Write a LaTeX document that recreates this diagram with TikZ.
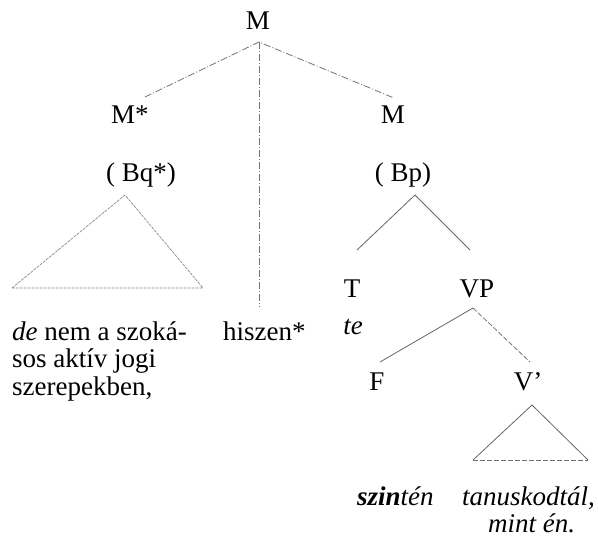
\documentclass[tikz,border=0pt]{standalone}
\usepackage{fontspec}
\setmainfont{Liberation Serif}
\begin{document}
\begin{tikzpicture}[x=1pt,y=-1pt,
  lbl/.style={inner sep=0pt,font=\fontsize{27}{29}\selectfont},
  txt/.style={inner sep=0pt,anchor=base west,font=\fontsize{27}{29}\selectfont},
  dashdot/.style={draw=black!55,line width=0.8pt,dash pattern=on 7pt off 2pt on 1pt off 2pt},
  fine/.style={draw=black!45,line width=0.7pt,dash pattern=on 3pt off 1pt},
  solidline/.style={draw=black!60,line width=0.8pt},
  dashline/.style={draw=black!55,line width=0.8pt,dash pattern=on 5pt off 2pt}]
\useasboundingbox (0,0) rectangle (598,539);
% labels
\node[lbl] (M) at (258,21) {M};
\node[lbl] (Mstar) at (130,115) {M*};
\node[lbl] (Mr) at (393,115) {M};
\node[lbl] (Bq) at (141,175) {( Bq*)};
\node[lbl] (Bp) at (403,175) {( Bp)};
\node[lbl,anchor=base] (T) at (352,297) {T};
\node[lbl,anchor=base] (te) at (353,334) {\itshape te};
\node[lbl,anchor=base] (VP) at (477,297) {VP};
\node[lbl,anchor=base] (F) at (377,390) {F};
\node[lbl,anchor=base] (Vb) at (528,390) {V’};
% texts
\node[txt] (de1) at (12,340) {\textit{de} nem a szoká-};
\node[txt] (de2) at (12,367) {sos aktív jogi};
\node[txt] (de3) at (12,395) {szerepekben,};
\node[txt] (hisz) at (223,340) {hiszen*};
\node[txt] (szin) at (357,505) {\textbf{\textit{szin}}\textit{tén}};
\node[txt] (tan) at (462,505) {\itshape tanuskodtál,};
\node[txt] (mint) at (488,532) {\itshape mint én.};
% coordinates
\coordinate (a0) at (259,42);
\coordinate (eMs) at (145,97);
\coordinate (eMr) at (394,98);
\coordinate (eV) at (259,307);
\coordinate (qA) at (125,195);
\coordinate (qL) at (12,288);
\coordinate (qR) at (203,288);
\coordinate (pA) at (415,195);
\coordinate (pL) at (357,250);
\coordinate (pR) at (470,250);
\coordinate (vA) at (473,308);
\coordinate (vL) at (380,362);
\coordinate (vR) at (530,362);
\coordinate (wA) at (532,405);
\coordinate (wL) at (473,460);
\coordinate (wR) at (588,460);
% connectors
\draw[dashdot] (eMs) -- (a0) -- (eMr);
\draw[dashdot] (a0) -- (eV);
\draw[fine] (qL) -- (qA) -- (qR) -- cycle;
\draw[solidline] (pL) -- (pA) -- (pR);
\draw[solidline] (vA) -- (vL);
\draw[dashline] (vA) -- (vR);
\draw[solidline] (wL) -- (wA) -- (wR);
\draw[dashline] (wL) -- (wR);
\end{tikzpicture}
\end{document}
